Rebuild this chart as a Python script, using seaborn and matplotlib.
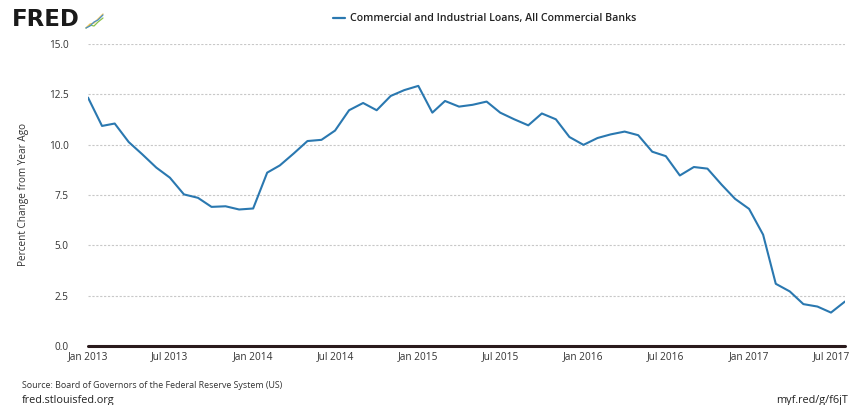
import numpy as np
import pandas as pd
import matplotlib
matplotlib.use("Agg")
import matplotlib.pyplot as plt
import matplotlib.dates as mdates
from matplotlib.lines import Line2D
import seaborn as sns

# ---- data ----
start_month = "2013-01-01"
values = [12.34, 10.93, 11.05, 10.13, 9.52, 8.86, 8.36, 7.53, 7.36, 6.91, 6.94, 6.78,
          6.83, 8.61, 8.97, 9.57, 10.18, 10.24, 10.70, 11.71, 12.07, 11.71, 12.42, 12.71,
          12.92, 11.59, 12.17, 11.89, 11.98, 12.14, 11.59, 11.26, 10.96, 11.55, 11.26, 10.38,
          9.99, 10.33, 10.51, 10.65, 10.47, 9.65, 9.43, 8.47, 8.89, 8.81, 8.02, 7.31,
          6.81, 5.53, 3.09, 2.71, 2.08, 1.96, 1.66, 2.21]
series_name = "Commercial and Industrial Loans, All Commercial Banks"
y_ticks = [0.0, 2.5, 5.0, 7.5, 10.0, 12.5, 15.0]
x_tick_dates = ["2013-01-01", "2013-07-01", "2014-01-01", "2014-07-01", "2015-01-01",
                "2015-07-01", "2016-01-01", "2016-07-01", "2017-01-01", "2017-07-01"]

dates = pd.date_range(start_month, periods=len(values), freq="MS")
df = pd.DataFrame({"date": dates, "value": values})

sns.set_style("white")
plt.rcParams["font.family"] = ["Open Sans", "DejaVu Sans"]

W, H = 861, 405
fig = plt.figure(figsize=(W / 100, H / 100), dpi=100)
ax = fig.add_axes([88 / W, 1 - 346 / H, (845 - 88) / W, (346 - 44) / H])

line_color = "#2a78b0"
sns.lineplot(data=df, x="date", y="value", ax=ax, color=line_color, lw=1.5)

ax.set_xlim(dates[0], dates[-1])
ax.set_ylim(0, 15)
ax.set_yticks(y_ticks)
ax.set_yticklabels([f"{v:.1f}" for v in y_ticks])
xt = pd.to_datetime(x_tick_dates)
ax.set_xticks(xt)
ax.set_xticklabels([d.strftime("%b %Y") for d in xt])

for s in ax.spines.values():
    s.set_visible(False)
ax.tick_params(axis="y", length=0, pad=14, labelsize=7.2, labelcolor="#333333")
ax.tick_params(axis="x", length=0, pad=4, labelsize=7.3, labelcolor="#333333")
ax.yaxis.grid(True, color="#c8c8c8", lw=0.8, ls=(0, (2, 1.5)))
ax.xaxis.grid(False)
ax.set_axisbelow(True)
ax.axhline(0, color="#2a1a1c", lw=2.2, clip_on=False, zorder=3)

ax.set_xlabel("")
ax.set_ylabel("Percent Change from Year Ago", fontsize=7.2, color="#333333")
ax.yaxis.set_label_coords(-(88 - 29) / (845 - 88), 0.5)

# legend at top
fig.add_artist(Line2D([333 / W, 345 / W], [1 - 18 / H, 1 - 18 / H], color=line_color, lw=1.6))
fig.text(350 / W, 1 - 18 / H, series_name, fontsize=7.7, fontweight="semibold",
         color="#222222", va="center", ha="left")

# FRED logo
fig.text(12 / W, 1 - 20 / H, "FRED", fontsize=16.5, fontweight="heavy", color="#1a1a1a",
         va="center", ha="left", family=["DejaVu Sans"])
icon_x = [86, 90, 94, 98, 103]
for ys, c in [([28, 25, 26, 22, 18], "#8bc34a"), ([28, 24, 23, 19, 14], "#f2c14e"),
              ([28, 26, 22, 20, 15], "#4a90c8")]:
    fig.add_artist(Line2D([x / W for x in icon_x], [1 - y / H for y in ys], color=c, lw=0.9))

# footer
fig.text(22 / W, 1 - 385 / H, "Source: Board of Governors of the Federal Reserve System (US)",
         fontsize=6.4, color="#333333", va="center", ha="left")
fig.text(22 / W, 1 - 400 / H, "fred.stlouisfed.org", fontsize=7.8, color="#222222",
         va="center", ha="left")
fig.text(848 / W, 1 - 400 / H, "myf.red/g/f6jT", fontsize=7.8, color="#222222",
         va="center", ha="right")

fig.savefig("out.png", dpi=100)
